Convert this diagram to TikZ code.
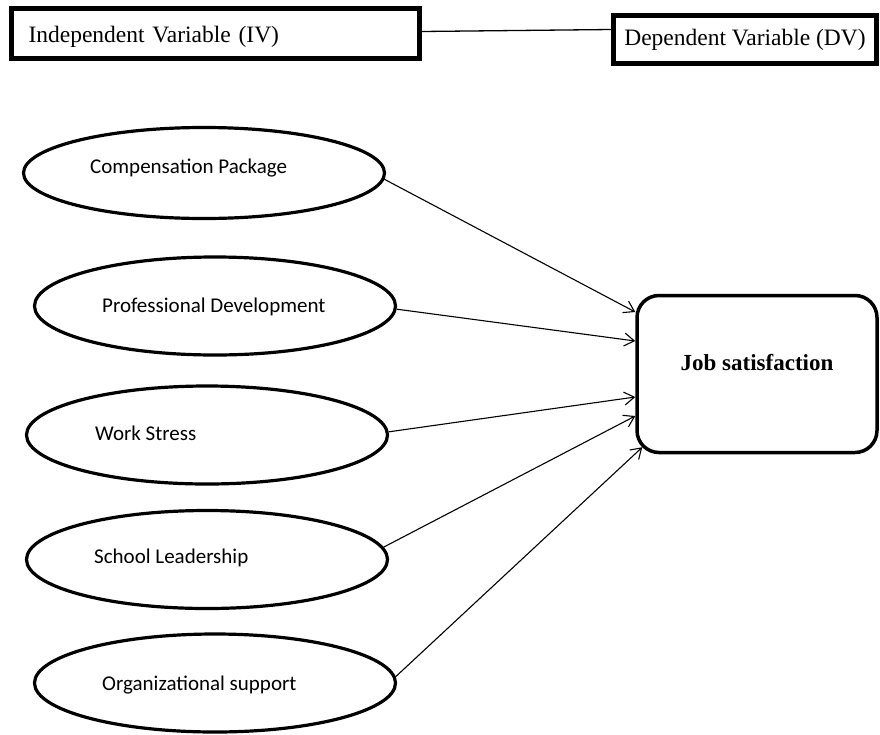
\documentclass[tikz,border=0pt]{standalone}
\usepackage{fontspec}
\setmainfont{Liberation Serif}
\newfontfamily\calibfont{Carlito}
\usetikzlibrary{positioning,shapes.geometric,arrows.meta}

\tikzset{
  varbox/.style={draw, line width=4.2pt, rectangle, inner sep=0pt,
    font=\fontsize{23.5}{27}\selectfont},
  factor/.style={draw, ellipse, line width=3.2pt, inner sep=0pt,
    minimum width=361pt, minimum height=98pt},
  factortext/.style={anchor=west, inner sep=0pt,
    font=\calibfont\fontsize{21}{25}\selectfont},
  outcome/.style={draw, rounded corners=22pt, line width=3.5pt,
    minimum width=240pt, minimum height=157pt},
  link/.style={line width=1.1pt, -{Straight Barb[length=10pt,width=13pt]}}
}

\begin{document}
\begin{tikzpicture}[x=1pt, y=-1pt]
    \path[fill=white, use as bounding box] (0,0) rectangle (880,734);

    \node[varbox, minimum width=408pt, minimum height=50pt, text width=374pt,
      align=left, inner xsep=17pt, text height=18pt, text depth=0pt] (iv)
      at (215.5,33.5) {Independent Variable (IV)};
    \node[varbox, minimum width=263pt, minimum height=48pt] (dv) at (745,39.5)
      {Dependent Variable (DV)};
    \draw[line width=1.3pt] ([yshift=2pt]iv.east) -- ([yshift=10pt]dv.west);

    \node[factor, minimum height=91pt] (cp) at (204,173) {};
    \node[factor] (pd) at (215,306) {};
    \node[factor] (ws) at (207,435) {};
    \node[factor] (sl) at (207,559.5) {};
    \node[factor] (os) at (215,683) {};

    \node[factortext] (cptext) at (90,168) {Compensation Package};
    \node[factortext] (pdtext) at (102,307) {Professional Development};
    \node[factortext] (wstext) at (95,433) {Work Stress};
    \node[factortext] (sltext) at (94,558) {School Leadership};
    \node[factortext] (ostext) at (102,685) {Organizational support};

    \node[outcome] (js) at (757,374) {};
    \node[font=\bfseries\fontsize{23}{27}\selectfont] (jstext) at (757,363)
      {Job satisfaction};

    \draw[link] (cp.-2) -- ([yshift=62pt]js.west);
    \draw[link] (pd.-1) -- ([yshift=33pt]js.west);
    \draw[link] (ws.1) -- ([yshift=-23pt]js.west);
    \draw[link] (sl.4) -- ([yshift=-42pt]js.west);
    \draw[link] (os.2.5) -- ([xshift=7pt,yshift=7pt]js.south west);
\end{tikzpicture}
\end{document}
